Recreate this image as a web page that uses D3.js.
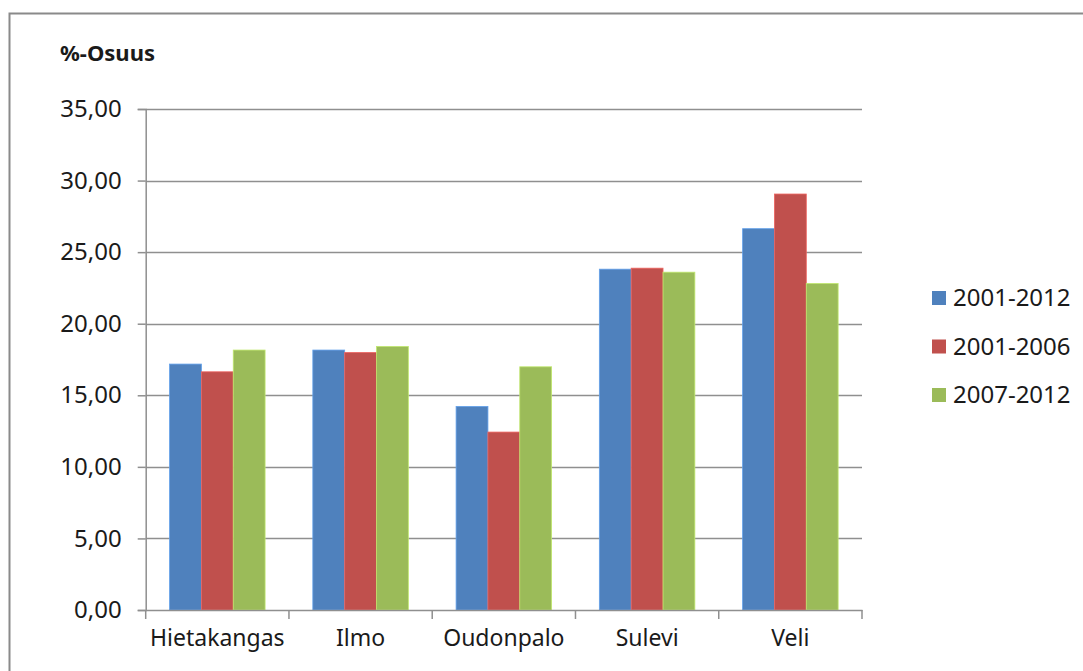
<!DOCTYPE html>
<html>
<head>
<meta charset="utf-8">
<script src="https://cdn.jsdelivr.net/npm/d3@7"></script>
<style>
  html, body { margin: 0; padding: 0; background: #fff; }
  svg { display: block; }
</style>
</head>
<body>
<svg id="chart" width="1083" height="671"></svg>
<script>
// Share (%) per area and period
const categories = ["Hietakangas", "Ilmo", "Oudonpalo", "Sulevi", "Veli"];
const seriesNames = ["2001-2012", "2001-2006", "2007-2012"];
const values2001_2012 = [17.18, 18.16, 14.22, 23.81, 26.64];
const values2001_2006 = [16.64, 17.99, 12.43, 23.88, 29.06];
const values2007_2012 = [18.16, 18.41, 16.99, 23.60, 22.81];
const seriesColors = ["#4F81BD", "#C0504D", "#9BBB59"];
const yTicks = [0, 5, 10, 15, 20, 25, 30, 35];
const yLabel = "%-Osuus";

const seriesValues = [values2001_2012, values2001_2006, values2007_2012];
const font = "'Noto Sans', 'Open Sans', sans-serif";

const svg = d3.select("#chart");

// Outer chart frame (only top and left edges fall inside the view)
svg.append("path")
  .attr("d", "M9.5,671 L9.5,13.5 L1083,13.5")
  .attr("fill", "none")
  .attr("stroke", "#8a8a8a")
  .attr("stroke-width", 2);

const plot = { left: 145.7, right: 862, top: 109, bottom: 610 };

const x0 = d3.scaleBand()
  .domain(categories)
  .range([plot.left, plot.right])
  .paddingInner(0)
  .paddingOuter(0);

const x1 = d3.scaleBand()
  .domain(seriesNames)
  .range([0, x0.bandwidth()])
  .paddingInner(0)
  .paddingOuter(0.75);

const y = d3.scaleLinear()
  .domain([0, 35])
  .range([plot.bottom, plot.top]);

// Horizontal gridlines
svg.append("g")
  .selectAll("line")
  .data(yTicks.filter(d => d > 0))
  .join("line")
  .attr("x1", plot.left)
  .attr("x2", plot.right)
  .attr("y1", d => Math.round(y(d)) + 0.5)
  .attr("y2", d => Math.round(y(d)) + 0.5)
  .attr("stroke", "#8f8f8f")
  .attr("stroke-width", 1.5);

// Bars
const groups = svg.append("g")
  .selectAll("g")
  .data(categories)
  .join("g")
  .attr("transform", d => `translate(${x0(d)},0)`);

groups.selectAll("rect")
  .data((c, i) => seriesNames.map((s, j) => ({ s, v: seriesValues[j][i], j })))
  .join("rect")
  .attr("x", d => x1(d.s))
  .attr("width", x1.bandwidth())
  .attr("y", d => y(d.v))
  .attr("height", d => y(0) - y(d.v))
  .attr("fill", d => seriesColors[d.j])
  .attr("stroke", d => d3.color(seriesColors[d.j]).brighter(0.6))
  .attr("stroke-width", 0.8);

// Y axis
const yAxis = d3.axisLeft(y)
  .tickValues(yTicks)
  .tickSize(8)
  .tickPadding(16)
  .tickFormat(d => d3.format(".2f")(d).replace(".", ","));

const yg = svg.append("g")
  .attr("transform", `translate(${plot.left},0)`)
  .call(yAxis);
yg.select(".domain").attr("stroke", "#8f8f8f").attr("stroke-width", 1.5);
yg.selectAll(".tick line").attr("stroke", "#8f8f8f").attr("stroke-width", 1.5);
yg.selectAll(".tick text")
  .attr("font-family", font)
  .attr("font-size", 24)
  .attr("fill", "#1a1a1a");

// X axis with ticks on category boundaries
const xAxis = d3.axisBottom(x0).tickSize(0).tickPadding(20);
const xg = svg.append("g")
  .attr("transform", `translate(0,${plot.bottom})`)
  .call(xAxis);
xg.select(".domain").attr("stroke", "#8f8f8f").attr("stroke-width", 1.5);
xg.selectAll(".tick text")
  .attr("font-family", font)
  .attr("font-size", 23)
  .attr("fill", "#1a1a1a");

const boundaries = categories.map(c => x0(c)).concat([x0(categories[categories.length - 1]) + x0.bandwidth()]);
svg.append("g")
  .selectAll("line")
  .data(boundaries)
  .join("line")
  .attr("x1", d => d)
  .attr("x2", d => d)
  .attr("y1", plot.bottom)
  .attr("y2", plot.bottom + 9)
  .attr("stroke", "#8f8f8f")
  .attr("stroke-width", 1.5);

// Axis title
svg.append("text")
  .attr("x", 60)
  .attr("y", 61)
  .attr("font-family", font)
  .attr("font-size", 22)
  .attr("font-weight", "bold")
  .attr("fill", "#1a1a1a")
  .text(yLabel);

// Legend
const legend = svg.append("g")
  .selectAll("g")
  .data(seriesNames)
  .join("g")
  .attr("transform", (d, i) => `translate(932,${298 + i * 48.5})`);

legend.append("rect")
  .attr("x", 0)
  .attr("y", -7)
  .attr("width", 14)
  .attr("height", 14)
  .attr("fill", (d, i) => seriesColors[i]);

legend.append("text")
  .attr("x", 21)
  .attr("y", 0)
  .attr("dy", "0.35em")
  .attr("font-family", font)
  .attr("font-size", 24)
  .attr("fill", "#1a1a1a")
  .text(d => d);
</script>
</body>
</html>
